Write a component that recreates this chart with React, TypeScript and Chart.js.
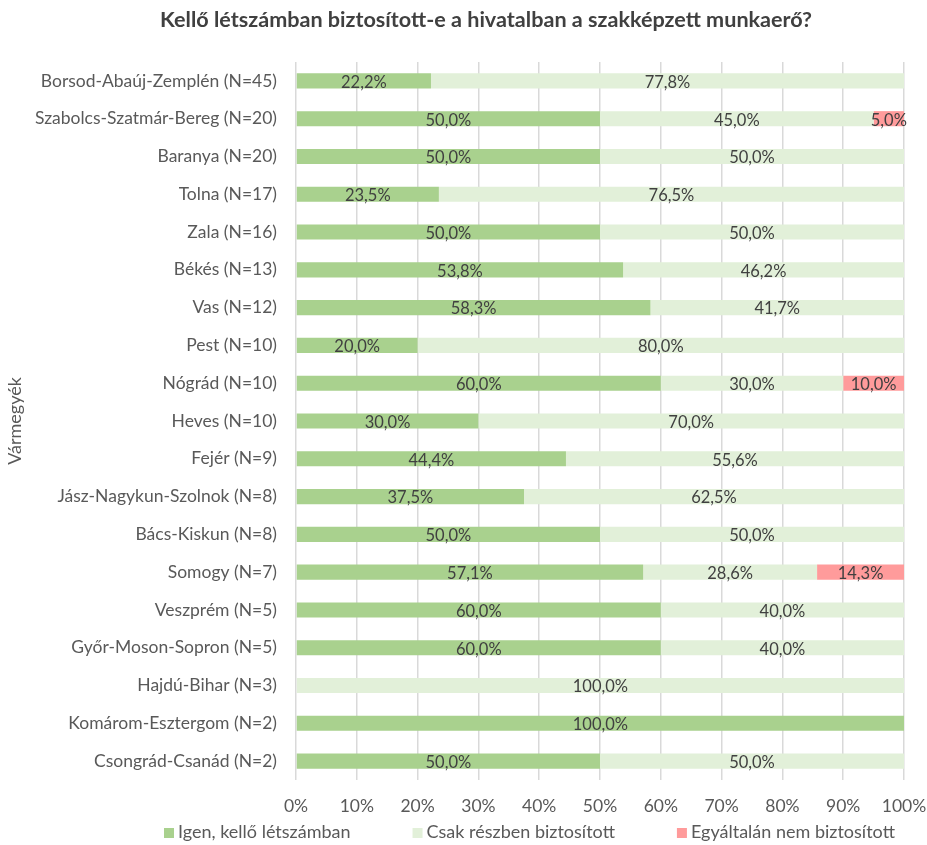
import React, { useEffect, useRef } from "react";
import { Chart, registerables } from "chart.js";

Chart.register(...registerables);

const categories = [
  "Borsod-Abaúj-Zemplén (N=45)",
  "Szabolcs-Szatmár-Bereg (N=20)",
  "Baranya (N=20)",
  "Tolna (N=17)",
  "Zala (N=16)",
  "Békés (N=13)",
  "Vas (N=12)",
  "Pest (N=10)",
  "Nógrád (N=10)",
  "Heves (N=10)",
  "Fejér (N=9)",
  "Jász-Nagykun-Szolnok (N=8)",
  "Bács-Kiskun (N=8)",
  "Somogy (N=7)",
  "Veszprém (N=5)",
  "Győr-Moson-Sopron (N=5)",
  "Hajdú-Bihar (N=3)",
  "Komárom-Esztergom (N=2)",
  "Csongrád-Csanád (N=2)",
];

const igen = [22.2, 50.0, 50.0, 23.5, 50.0, 53.8, 58.3, 20.0, 60.0, 30.0, 44.4, 37.5, 50.0, 57.1, 60.0, 60.0, 0, 100.0, 50.0];
const reszben = [77.8, 45.0, 50.0, 76.5, 50.0, 46.2, 41.7, 80.0, 30.0, 70.0, 55.6, 62.5, 50.0, 28.6, 40.0, 40.0, 100.0, 0, 50.0];
const egyaltalan = [0, 5.0, 0, 0, 0, 0, 0, 0, 10.0, 0, 0, 0, 0, 14.3, 0, 0, 0, 0, 0];

const seriesNames = ["Igen, kellő létszámban", "Csak részben biztosított", "Egyáltalán nem biztosított"];
const seriesColors = ["#a9d18e", "#e2f0d9", "#ff9b9b"];
const xTicks = [0, 10, 20, 30, 40, 50, 60, 70, 80, 90, 100];
const titleText = "Kellő létszámban biztosított-e a hivatalban a szakképzett munkaerő?";
const axisTitle = "Vármegyék";

const FONT = "Lato, 'Open Sans', sans-serif";

const decorPlugin = {
  id: "decor",
  afterDatasetsDraw(chart: any) {
    const ctx = chart.ctx;
    ctx.save();
    ctx.font = `16.5px ${FONT}`;
    ctx.fillStyle = "#404040";
    ctx.textAlign = "center";
    ctx.textBaseline = "middle";
    chart.data.datasets.forEach((ds: any, di: number) => {
      const meta = chart.getDatasetMeta(di);
      meta.data.forEach((el: any, i: number) => {
        const v = ds.data[i];
        if (!v) return;
        const cx = (el.x + el.base) / 2;
        ctx.fillText(v.toFixed(1).replace(".", ",") + "%", cx, el.y + 1.5);
      });
    });
    ctx.restore();
  },
  afterDraw(chart: any) {
    const ctx = chart.ctx;
    ctx.save();
    ctx.font = `bold 21.6px ${FONT}`;
    ctx.fillStyle = "#404040";
    ctx.textAlign = "center";
    ctx.textBaseline = "middle";
    ctx.fillText(titleText, 486, 20);
    ctx.font = `18px ${FONT}`;
    ctx.textAlign = "left";
    let x = 164;
    const y = 832;
    chart.data.datasets.forEach((ds: any) => {
      ctx.fillStyle = ds.backgroundColor;
      ctx.fillRect(x, y - 4, 10, 10);
      ctx.fillStyle = "#595959";
      ctx.fillText(ds.label, x + 14, y);
      x += 14 + ctx.measureText(ds.label).width + 62;
    });
    ctx.restore();
  },
};

export default function App() {
  const ref = useRef<HTMLCanvasElement>(null);
  useEffect(() => {
    if (!ref.current) return;
    const chart = new Chart(ref.current, {
      type: "bar",
      data: {
        labels: categories,
        datasets: [
          { label: seriesNames[0], data: igen, backgroundColor: seriesColors[0] },
          { label: seriesNames[1], data: reszben, backgroundColor: seriesColors[1] },
          { label: seriesNames[2], data: egyaltalan, backgroundColor: seriesColors[2] },
        ],
      },
      options: {
        indexAxis: "y",
        animation: false,
        responsive: false,
        maintainAspectRatio: false,
        datasets: { bar: { categoryPercentage: 1, barPercentage: 0.4 } } as any,
        layout: { padding: { left: 4, right: 23, top: 62, bottom: 28 } },
        scales: {
          x: {
            stacked: true,
            min: 0,
            max: 100,
            afterBuildTicks: (s: any) => {
              s.ticks = xTicks.map((v) => ({ value: v }));
            },
            afterFit: (s: any) => {
              s.height = 37;
              s.paddingLeft = 0;
              s.paddingRight = 0;
            },
            ticks: {
              callback: (v: any) => v + "%",
              color: "#595959",
              font: { size: 17.5, family: FONT },
              padding: 16,
              maxRotation: 0,
            },
            grid: { color: "#d9d9d9", drawTicks: false, lineWidth: 1.5 },
            border: { display: false },
          },
          y: {
            stacked: true,
            afterFit: (s: any) => {
              s.width = 292;
            },
            ticks: {
              color: "#595959",
              font: { size: 17.5, family: FONT },
              padding: 11,
            },
            grid: { display: false },
            border: { display: false },
            title: {
              display: true,
              text: axisTitle,
              color: "#595959",
              font: { size: 18, family: FONT },
              padding: 0,
            },
          },
        },
        plugins: {
          title: { display: false },
          legend: { display: false },
          tooltip: { enabled: false },
        },
      },
      plugins: [decorPlugin],
    });
    return () => chart.destroy();
  }, []);
  return (
    <div style={{ position: "absolute", left: 0, top: 0, width: 927, height: 845, background: "#fff" }}>
      <canvas ref={ref} width={927} height={845} style={{ width: 927, height: 845 }} />
    </div>
  );
}
